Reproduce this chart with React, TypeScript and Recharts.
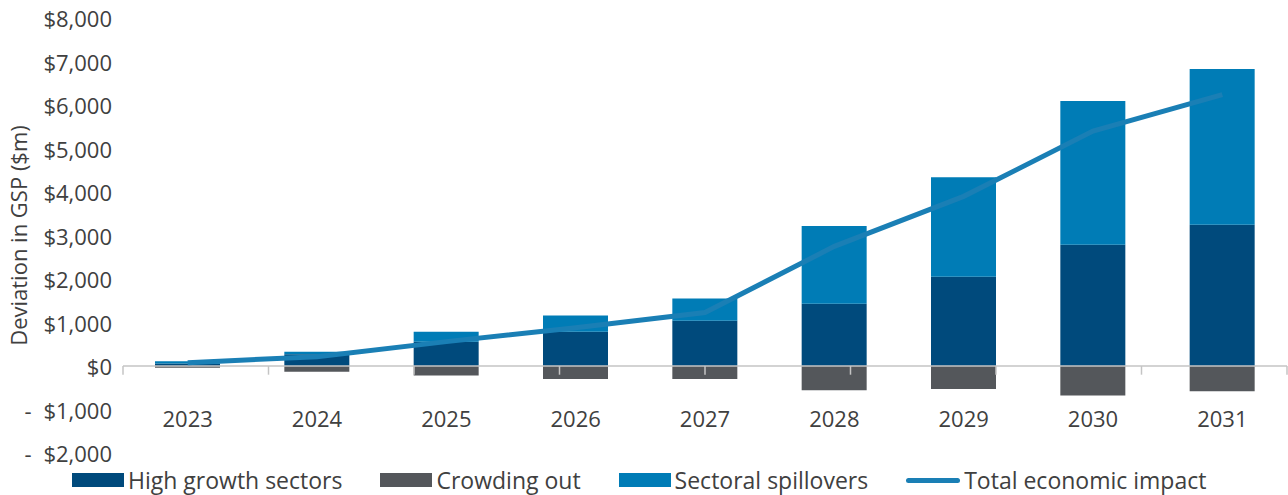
import React from 'react';
import { ComposedChart, Bar, Line, XAxis, YAxis, ReferenceLine, Legend } from 'recharts';

const years = ['2023', '2024', '2025', '2026', '2027', '2028', '2029', '2030', '2031'];
const highGrowth = [60, 270, 560, 790, 1040, 1430, 2050, 2790, 3250];
const crowdingOut = [-40, -130, -220, -300, -300, -560, -530, -680, -580];
const spillovers = [50, 60, 230, 370, 510, 1790, 2290, 3300, 3580];
const totalImpact = [75, 215, 560, 880, 1230, 2750, 3900, 5400, 6240];
const yTicks = [-2000, -1000, 0, 1000, 2000, 3000, 4000, 5000, 6000, 7000, 8000];
const boundaries = [0, 1, 2, 3, 4, 5, 6, 7, 8, 9];

const data = years.map((year, i) => ({
  year,
  high: highGrowth[i],
  crowd: crowdingOut[i],
  spill: spillovers[i],
  total: totalImpact[i],
}));

const FONT = '"Open Sans", sans-serif';
const TEXT = '#404040';
const C_HIGH = '#004a7c';
const C_CROWD = '#54575b';
const C_SPILL = '#007cb6';
const C_LINE = '#1a7fb5';
const C_AXIS = '#c4c4c4';

const XTick = (props: any) => {
  const { x, y, payload } = props;
  return (
    <text x={x} y={y - 35} textAnchor="middle" dominantBaseline="central" fill={TEXT} fontFamily={FONT} fontSize={22}>
      {payload.value}
    </text>
  );
};

const YTick = (props: any) => {
  const { x, y, payload } = props;
  const v = payload.value as number;
  const s = '$' + Math.abs(v).toLocaleString('en-US');
  return (
    <g>
      {v < 0 && (
        <text x={x - 84} y={y} textAnchor="middle" dominantBaseline="central" fill={TEXT} fontFamily={FONT} fontSize={22}>
          -
        </text>
      )}
      <text x={x} y={y} textAnchor="end" dominantBaseline="central" fill={TEXT} fontFamily={FONT} fontSize={22}>
        {s}
      </text>
    </g>
  );
};

const YLabel = (props: any) => {
  const vb = props.viewBox || { x: 0, y: 0, height: 0 };
  const cx = vb.x + 18;
  const cy = vb.y + vb.height / 2;
  return (
    <text
      x={cx}
      y={cy}
      transform={`rotate(-90, ${cx}, ${cy})`}
      textAnchor="middle"
      dominantBaseline="central"
      fill={TEXT}
      fontFamily={FONT}
      fontSize={22}
    >
      Deviation in GSP ($m)
    </text>
  );
};

const legendItems = [
  { label: 'High growth sectors', color: C_HIGH, type: 'rect' },
  { label: 'Crowding out', color: C_CROWD, type: 'rect' },
  { label: 'Sectoral spillovers', color: C_SPILL, type: 'rect' },
  { label: 'Total economic impact', color: C_LINE, type: 'line' },
];

const LegendContent = () => (
  <div style={{ display: 'flex', alignItems: 'center', paddingLeft: 72, fontFamily: FONT, fontSize: 23, color: TEXT, whiteSpace: 'nowrap' }}>
    {legendItems.map((it) => (
      <div key={it.label} style={{ display: 'flex', alignItems: 'center', marginRight: 38 }}>
        {it.type === 'rect' ? (
          <div style={{ width: 52, height: 14, background: it.color, marginRight: 4 }} />
        ) : (
          <div style={{ width: 54, height: 5, borderRadius: 3, background: it.color, marginRight: 4 }} />
        )}
        <span>{it.label}</span>
      </div>
    ))}
  </div>
);

export default function App() {
  return (
    <div style={{ position: 'absolute', left: 0, top: 0, width: 1288, height: 495, background: '#fff' }}>
      <ComposedChart
        width={1288}
        height={495}
        data={data}
        stackOffset="sign"
        margin={{ top: 18, right: 1, bottom: 0, left: 0 }}
      >
        <XAxis dataKey="year" height={42} axisLine={false} tickLine={false} tickSize={0} tickMargin={0} tick={<XTick />} interval={0} />
        <XAxis xAxisId="grid" type="number" domain={[0, 9]} hide />
        <YAxis
          width={123}
          domain={[-2000, 8000]}
          ticks={yTicks}
          interval={0}
          axisLine={false}
          tickLine={false}
          tickSize={0}
          tickMargin={11}
          tick={<YTick />}
          label={<YLabel />}
        />
        <Bar dataKey="high" name="High growth sectors" stackId="a" fill={C_HIGH} barSize={65} isAnimationActive={false} />
        <Bar dataKey="crowd" name="Crowding out" stackId="a" fill={C_CROWD} barSize={65} isAnimationActive={false} />
        <Bar dataKey="spill" name="Sectoral spillovers" stackId="a" fill={C_SPILL} barSize={65} isAnimationActive={false} />
        <ReferenceLine y={0} stroke={C_AXIS} strokeWidth={1.5} />
        {boundaries.map((b) => (
          <ReferenceLine
            key={b}
            xAxisId="grid"
            segment={[{ x: b, y: 0 }, { x: b, y: -200 }]}
            stroke={C_AXIS}
            strokeWidth={1.5}
          />
        ))}
        <Line
          dataKey="total"
          name="Total economic impact"
          type="linear"
          stroke={C_LINE}
          strokeWidth={5}
          dot={false}
          activeDot={false}
          isAnimationActive={false}
        />
        <Legend
          layout="horizontal"
          verticalAlign="middle"
          align="center"
          content={<LegendContent />}
          wrapperStyle={{ top: 464, left: 0, width: 1288, height: 30 }}
        />
      </ComposedChart>
    </div>
  );
}
